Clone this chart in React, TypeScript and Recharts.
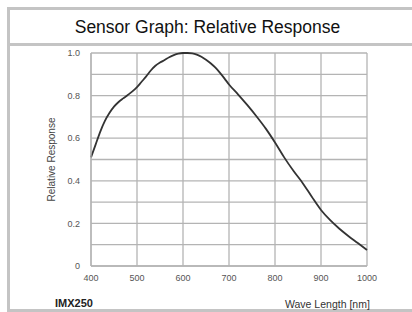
import { LineChart, Line, XAxis, YAxis, CartesianGrid, Label } from 'recharts';

const wavelengths = [
  400, 410, 420, 430, 440, 450, 460, 470, 480, 490, 500, 510, 520, 530, 540, 550, 560, 570, 580, 590,
  600, 610, 620, 630, 640, 650, 660, 670, 680, 690, 700, 720, 740, 760, 780, 800, 820, 840, 860, 880,
  900, 920, 940, 960, 980, 1000,
];
const response = [
  0.51, 0.57, 0.63, 0.68, 0.718, 0.748, 0.77, 0.787, 0.803, 0.82, 0.84, 0.865, 0.89, 0.918, 0.94, 0.955, 0.967, 0.98, 0.99, 0.997,
  1.0, 1.0, 0.998, 0.992, 0.982, 0.968, 0.952, 0.932, 0.908, 0.881, 0.852, 0.805, 0.755, 0.702, 0.645, 0.58, 0.51, 0.447, 0.39, 0.325,
  0.263, 0.215, 0.175, 0.14, 0.108, 0.075,
];
const xTicks = [400, 500, 600, 700, 800, 900, 1000];
const yTicks = [0, 0.1, 0.2, 0.3, 0.4, 0.5, 0.6, 0.7, 0.8, 0.9, 1.0];

const data = wavelengths.map((w, i) => ({ nm: w, value: response[i] }));

const GRID = '#b4b4b4';
const FONT = 'Arial, "Liberation Sans", sans-serif';

function yLabel(v: number) {
  const k = Math.round(v * 10);
  if (k % 2 !== 0) return '';
  if (k === 0) return '0';
  return (k / 10).toFixed(1);
}

export default function App() {
  return (
    <div style={{ position: 'absolute', left: 0, top: 0, width: 412, height: 312, background: '#fff', overflow: 'hidden', fontFamily: FONT }}>
      <div style={{ position: 'absolute', left: 7, top: 7, width: 420, height: 299, border: '3px solid #c4c4c4' }} />
      <div style={{ position: 'absolute', left: 7, top: 43, width: 420, height: 3, background: '#c4c4c4' }} />
      <div style={{ position: 'absolute', left: 10, top: 16, width: 395, textAlign: 'center', fontSize: 17.5, color: '#111', lineHeight: '22px' }}>
        Sensor Graph: Relative Response
      </div>
      <div style={{ position: 'absolute', top: 0, left: 0 }}>
        <LineChart width={412} height={312} data={data} margin={{ top: 53, right: 45, bottom: 16, left: 0 }}>
          <CartesianGrid stroke={GRID} strokeWidth={1.3} vertical horizontal />
          <XAxis
            dataKey="nm"
            type="number"
            domain={[400, 1000]}
            ticks={xTicks}
            height={30}
            tickSize={0}
            tickMargin={9}
            axisLine={{ stroke: GRID, strokeWidth: 1.3 }}
            tick={{ fontSize: 9, fill: '#555', fontFamily: FONT }}
          />
          <YAxis
            type="number"
            domain={[0, 1]}
            ticks={yTicks}
            width={91}
            tickSize={0}
            tickMargin={11}
            interval={0}
            tickFormatter={yLabel}
            axisLine={{ stroke: GRID, strokeWidth: 1.3 }}
            tick={{ fontSize: 9, fill: '#555', fontFamily: FONT }}
          >
            <Label value="Relative Response" angle={-90} position="center" dx={6} style={{ fontSize: 10, fill: '#444', fontFamily: FONT }} />
          </YAxis>
          <Line type="monotone" dataKey="value" stroke="#333" strokeWidth={1.8} dot={false} isAnimationActive={false} />
        </LineChart>
      </div>
      <div style={{ position: 'absolute', left: 55, top: 296, fontSize: 11, fontWeight: 'bold', color: '#222', lineHeight: '14px' }}>IMX250</div>
      <div style={{ position: 'absolute', left: 285, top: 298, fontSize: 10.5, color: '#333', lineHeight: '13px' }}>Wave Length [nm]</div>
    </div>
  );
}
